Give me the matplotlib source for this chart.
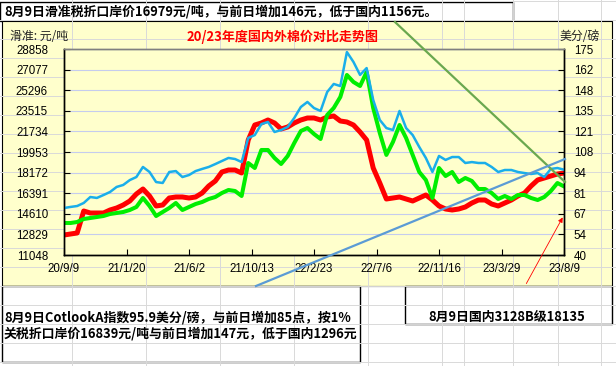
import matplotlib
matplotlib.use('Agg')
import matplotlib.pyplot as plt
import pandas as pd
from matplotlib.patches import Rectangle

plt.rcParams['font.family'] = ['Noto Sans CJK SC', 'DejaVu Sans']

# 两周一个点
dates = pd.date_range('2020-09-09', '2023-08-09', freq='14D')

# 国内3128B (元/吨)
domestic = [12777, 12864, 12950, 14852, 14679, 14679, 14679, 14939, 15112, 15371,
            15717, 16322, 16754, 16149, 15285, 15371, 15976, 16063, 16063, 15976,
            16063, 16409, 17014, 17446, 18224, 18397, 18397, 18138, 20991, 22288,
            22461, 22720, 22461, 21942, 22115, 22461, 22720, 22893, 22893, 22720,
            22979, 23066, 22634, 22547, 22288, 21683, 20991, 18570, 17273, 15890,
            15976, 16063, 15890, 15717, 15976, 16236, 15803, 15285, 15025, 14939,
            15025, 15198, 15544, 15803, 15803, 15457, 15285, 15544, 15803, 16149,
            16409, 17014, 17533, 17705, 17878, 18051, 18135]

# 滑准税折口岸价 (元/吨)
sliding = [13815, 13815, 13901, 14161, 14247, 14333, 14420, 14593, 14679, 14766,
           14939, 15198, 15976, 15285, 14420, 14766, 15112, 15544, 14939, 15198,
           15457, 15630, 15890, 16063, 16409, 16668, 16581, 16149, 19002, 18570,
           20126, 20126, 19435, 18916, 19608, 20732, 21769, 22028, 21510, 21077,
           23152, 23758, 24709, 26611, 26006, 25660, 26870, 23758, 21596, 19700,
           20818, 22288, 21164, 19694, 18224, 17533, 15976, 18570, 17878, 18224,
           17360, 17705, 17446, 16754, 16754, 16409, 15890, 16149, 15890, 16236,
           16236, 15976, 15803, 16063, 16581, 17273, 16979]

# CotlookA指数 (美分/磅)
cotlook = [70.8, 71.5, 72.1, 74.1, 78.0, 77.4, 79.3, 81.3, 84.6, 85.9,
           89.1, 91.1, 97.7, 94.4, 87.8, 87.2, 94.4, 95.0, 91.1, 92.4,
           95.0, 96.4, 97.7, 99.6, 101.6, 103.6, 102.9, 100.9, 116.7, 118.6,
           125.8, 127.2, 120.6, 121.9, 123.9, 129.8, 137.0, 140.3, 136.3, 134.4,
           146.8, 152.1, 150.7, 173.0, 166.5, 158.0, 162.5, 141.6, 128.5, 123.2,
           121.9, 134.4, 123.2, 118.6, 110.8, 103.6, 94.4, 104.9, 102.3, 104.2,
           104.2, 100.3, 100.9, 100.3, 100.3, 97.7, 94.4, 95.7, 95.7, 94.4,
           93.7, 93.1, 93.7, 91.1, 96.4, 97.0, 95.9]

tick_dates = pd.to_datetime(['2020-09-09', '2021-01-20', '2021-06-02', '2021-10-13', '2022-02-23',
                             '2022-07-06', '2022-11-16', '2023-03-29', '2023-08-09'])
tick_labels = ['20/9/9', '21/1/20', '21/6/2', '21/10/13', '22/2/23',
               '22/7/6', '22/11/16', '23/3/29', '23/8/9']
left_ticks = [11048, 12829, 14610, 16391, 18172, 19953, 21734, 23515, 25296, 27077, 28858]
right_ticks = [40, 53.5, 67, 80.5, 94, 107.5, 121, 134.5, 148, 161.5, 175]
right_labels = ['40', '54', '67', '81', '94', '108', '121', '135', '148', '162', '175']

title = '20/23年度国内外棉价对比走势图'
top_note = '8月9日滑准税折口岸价16979元/吨，与前日增加146元，低于国内1156元。'
bottom_note1 = '8月9日CotlookA指数95.9美分/磅，与前日增加85点，按1%'
bottom_note2 = '关税折口岸价16839元/吨与前日增加147元，低于国内1296元'
right_note = '8月9日国内3128B级18135'

W, H = 616, 366
fig = plt.figure(figsize=(W / 100, H / 100), dpi=100)

# 背景: 表格
bg = fig.add_axes([0, 0, 1, 1])
bg.set_xlim(0, W)
bg.set_ylim(H, 0)
bg.axis('off')
for y in range(1, H, 19):
    bg.plot([0, W], [y, y], color='#D9D9D9', lw=0.7)
for x in [72, 146, 220, 294, 368, 442, 464, 513, 558, 601]:
    bg.plot([x, x], [0, H], color='#D9D9D9', lw=0.7)

bg.add_patch(Rectangle((0, 2), 513, 19, fc='white', ec='black', lw=1))
bg.text(4, 12, top_note, fontsize=9.3, fontweight='bold', va='center', ha='left')

bg.add_patch(Rectangle((2, 21), 610, 265, fc='#FFFFCC', ec='black', lw=0.8))
bg.text(283, 37, title, fontsize=9.4, fontweight='bold', color='#FF0000', ha='center', va='center')
bg.text(10, 37, '滑准: 元/吨', fontsize=8.6, ha='left', va='center', color='#222222')
bg.text(600, 37, '美分/磅', fontsize=8.6, ha='right', va='center', color='#222222')

bg.add_patch(Rectangle((2, 286), 358, 76, fc='white', ec='black', lw=1))
bg.text(4, 317, bottom_note1, fontsize=9.3, fontweight='bold', va='center', ha='left')
bg.text(4, 333, bottom_note2, fontsize=9.3, fontweight='bold', va='center', ha='left')
bg.add_patch(Rectangle((405, 286), 207, 38, fc='white', ec='black', lw=1))
bg.text(507, 317, right_note, fontsize=9.3, fontweight='bold', va='center', ha='center')

# 图表
ax = fig.add_axes([64 / W, 1 - 255 / H, 500 / W, 206 / H], facecolor='#FFFFCC')
ax2 = ax.twinx()

ax.plot(dates, domestic, color='#FF0000', lw=3.6, solid_joinstyle='round')
ax.plot(dates, sliding, color='#00EE00', lw=2.9, solid_joinstyle='round')
ax2.plot(dates, cotlook, color='#1AAEEA', lw=1.8, solid_joinstyle='round')

ax.set_xlim(dates[0], dates[-1])
ax.set_ylim(left_ticks[0], left_ticks[-1])
ax2.set_ylim(right_ticks[0], right_ticks[-1])

ax.set_yticks(left_ticks, labels=[str(v) for v in left_ticks], fontfamily='Liberation Sans', fontsize=8.3)
ax2.set_yticks(right_ticks, labels=right_labels, fontfamily='Liberation Sans', fontsize=8.3)
ax.set_xticks(tick_dates, labels=tick_labels, fontfamily='Liberation Sans', fontsize=8.3)

ax.tick_params(axis='y', direction='in', length=4, pad=11.5, colors='black')
ax2.tick_params(axis='y', direction='in', length=4, pad=7, colors='black')
ax.tick_params(axis='x', direction='in', length=4, pad=5.5, colors='black')

ax.grid(axis='y', color='#C5CCEE', lw=0.8)
ax.set_axisbelow(True)
for a in (ax, ax2):
    for s in ('left', 'right', 'bottom'):
        a.spines[s].set_color('black')
        a.spines[s].set_linewidth(1)
    a.spines['top'].set_color('#808080')
    a.spines['top'].set_linewidth(1)

# 手画的线
fg = fig.add_axes([0, 0, 1, 1], zorder=5)
fg.set_xlim(0, W)
fg.set_ylim(H, 0)
fg.axis('off')
fg.patch.set_alpha(0)
fg.plot([395, 565], [22, 182], color='#6AA84F', lw=1.6)
fg.plot([256, 565], [286, 159], color='#5B9BD5', lw=1.6)
fg.annotate('', xy=(564, 215), xytext=(525, 286),
            arrowprops=dict(arrowstyle='-|>', color='#FF0000', lw=0.6, mutation_scale=7))

fig.savefig('out.png', dpi=100)
